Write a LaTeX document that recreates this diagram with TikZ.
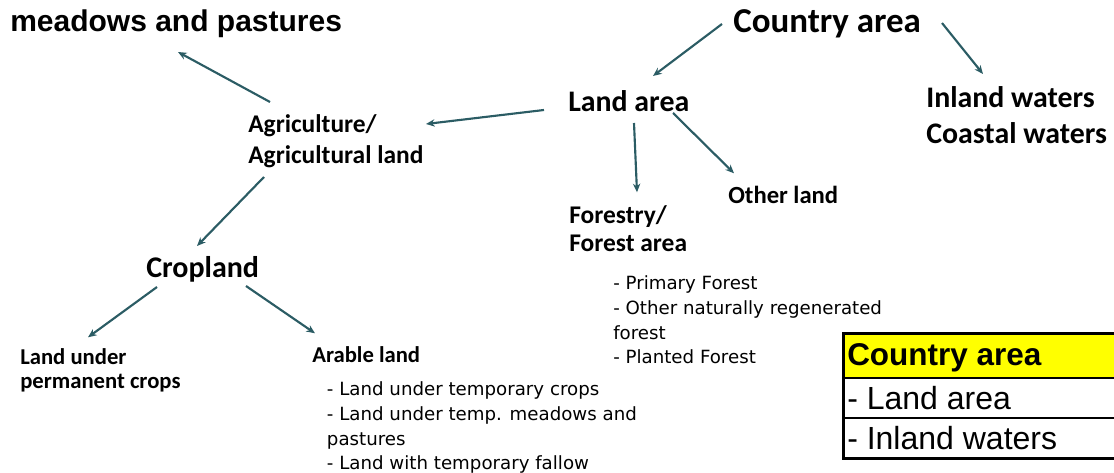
\documentclass[tikz,border=0pt]{standalone}
\usepackage{fontspec}
\setmainfont{Carlito}
\newfontfamily\arialfont{Liberation Sans}
\newfontfamily\listfont{DejaVu Sans}
\usetikzlibrary{arrows.meta,calc}

\definecolor{arrowteal}{HTML}{2B5C64}
\definecolor{cellyellow}{HTML}{FFFF00}

\newcommand{\fsz}[2]{\fontsize{#1}{#2}\selectfont}
\newcommand{\twol}[2]{\begin{tabular}[t]{@{}l@{}}#1\\#2\end{tabular}}
\newcommand{\fourl}[4]{\begin{tabular}[t]{@{}l@{}}#1\\#2\\#3\\#4\end{tabular}}

\begin{document}
\begin{tikzpicture}[x=0.75pt,y=-0.75pt,
  txt/.style={inner sep=0pt,anchor=base west},
  head/.style={txt,font=\bfseries\fsz{#1}{30pt}},
  sub/.style={txt,font=\listfont\fsz{13.65pt}{18.45pt}},
  arr/.style={draw=arrowteal,line width=1.6pt,-{Stealth[length=6.5pt,width=5.5pt]}},
  cell/.style={txt,font=\arialfont\fsz{24pt}{28pt}},
]
\clip (0,0) rectangle (1114,473);

% category labels
\node[txt,font=\arialfont\bfseries\fsz{22.5pt}{27pt}] (mp) at (10,32) {meadows and pastures};
\node[head=26.2pt] (ca) at (733,33) {Country area};
\node[txt,font=\bfseries\fsz{22.4pt}{27pt}] (iw) at (926,108) {\twol{Inland waters}{Coastal waters}};
\node[head=22.4pt] (la) at (568,112) {Land area};
\node[txt,font=\bfseries\fsz{19.1pt}{23.25pt}] (ag) at (248,133) {\twol{Agriculture/}{Agricultural land}};
\node[head=22.5pt] (cr) at (146,278) {Cropland};
\node[txt,font=\bfseries\fsz{19.1pt}{20.8pt}] (fo) at (569,223.3) {\twol{Forestry/}{Forest area}};
\node[head=18.5pt] (ol) at (728,203.3) {Other land};
\node[txt,font=\bfseries\fsz{17pt}{18pt}] (pc) at (20,364.3) {\twol{Land under}{permanent crops}};
\node[head=17pt] (ar) at (312,362.3) {Arable land};

% sub-category lists
\node[sub] (fl) at (613,290) {\fourl{- Primary Forest}{- Other naturally regenerated}{forest}{- Planted Forest}};
\node[sub] (al) at (326.7,396) {\fourl{- Land under temporary crops}{- Land under temp. meadows and}{pastures}{- Land with temporary fallow}};

% hierarchy arrows
\draw[arr] ($(ca.base west)+(-11,-9)$) -- ($(la.base west)+(85,-36)$);
\draw[arr] ($(ca.base west)+(209,-10)$) -- ($(iw.base west)+(57,-34)$);
\draw[arr] ($(la.base west)+(-24,-2)$) -- ($(ag.base west)+(178,-9)$);
\draw[arr] ($(ag.base west)+(22,-31)$) -- ($(mp.base west)+(168,20)$);
\draw[arr] ($(la.base west)+(66,11)$) -- ($(fo.base west)+(68,-31)$);
\draw[arr] ($(la.base west)+(105,1)$) -- ($(ol.base west)+(6,-30)$);
\draw[arr] ($(ag.base west)+(16,44)$) -- ($(cr.base west)+(51,-32)$);
\draw[arr] ($(cr.base west)+(11,9)$) -- ($(pc.base west)+(68,-27)$);
\draw[arr] ($(cr.base west)+(100,8)$) -- ($(ar.base west)+(3,-29)$);

% summary table
\fill[cellyellow] (843.5,334) rectangle (1120,377.7);
\draw[line width=1.5pt] (843.5,377.7) -- (1120,377.7);
\draw[line width=1.5pt] (843.5,418) -- (1120,418);
\draw[line width=2.4pt] (1120,333.7) -- (843.5,333.7) -- (843.5,458.3) -- (1120,458.3);
\node[cell,font=\arialfont\bfseries\fsz{23.6pt}{28pt}] (t1) at (847,365.7) {Country area};
\node[cell] (t2) at (847,410) {- Land area};
\node[cell] (t3) at (847,450) {- Inland waters};
\end{tikzpicture}
\end{document}
